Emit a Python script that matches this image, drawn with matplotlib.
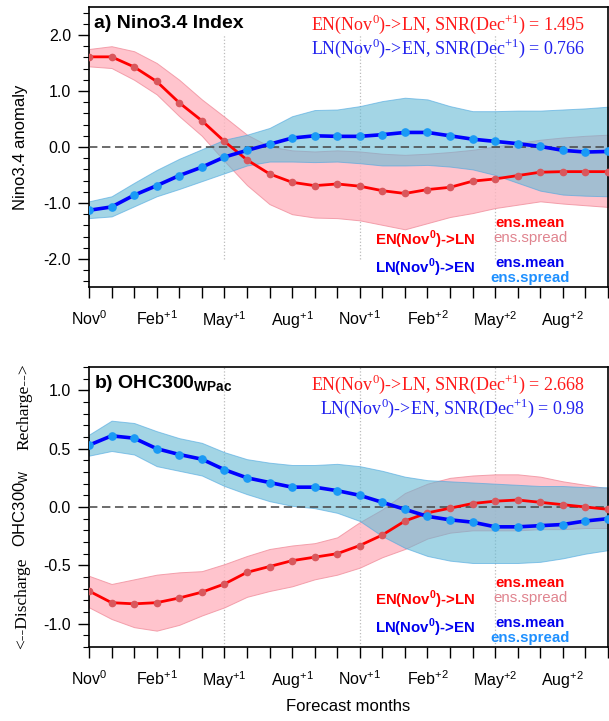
import matplotlib
matplotlib.use("Agg")
import matplotlib.pyplot as plt
from matplotlib.ticker import MultipleLocator

plt.rcParams['font.family'] = ['Liberation Sans', 'DejaVu Sans']

# forecast month index: 0 = Nov(0) ... 23 = Oct(+2)
months = list(range(24))
month_labels = [r'Nov$^{\mathregular{0}}$', r'Feb$^{\mathregular{+1}}$', r'May$^{\mathregular{+1}}$',
                r'Aug$^{\mathregular{+1}}$', r'Nov$^{\mathregular{+1}}$', r'Feb$^{\mathregular{+2}}$',
                r'May$^{\mathregular{+2}}$', r'Aug$^{\mathregular{+2}}$']

# a) Nino3.4 index
nino_en_mean = [1.61, 1.61, 1.43, 1.17, 0.79, 0.47, 0.10, -0.23, -0.48, -0.63, -0.69, -0.66,
                -0.70, -0.78, -0.83, -0.76, -0.72, -0.61, -0.57, -0.51, -0.45, -0.44, -0.44, -0.44]
nino_en_hi = [1.75, 1.80, 1.71, 1.50, 1.20, 0.85, 0.54, 0.22, 0.01, -0.06, -0.08, -0.06,
              -0.08, -0.12, -0.14, -0.12, -0.09, -0.05, 0.01, 0.07, 0.13, 0.17, 0.20, 0.22]
nino_en_lo = [1.44, 1.41, 1.20, 0.94, 0.55, 0.20, -0.25, -0.68, -1.02, -1.20, -1.26, -1.27,
              -1.31, -1.39, -1.47, -1.36, -1.25, -1.18, -1.09, -1.03, -0.97, -1.01, -1.04, -1.07]
nino_ln_mean = [-1.13, -1.07, -0.86, -0.69, -0.51, -0.36, -0.18, -0.06, 0.05, 0.16, 0.20, 0.19,
                0.19, 0.22, 0.26, 0.26, 0.20, 0.14, 0.10, 0.06, 0.01, -0.06, -0.09, -0.08]
nino_ln_hi = [-0.97, -0.88, -0.64, -0.41, -0.21, -0.04, 0.13, 0.22, 0.34, 0.55, 0.66, 0.67,
              0.73, 0.82, 0.88, 0.85, 0.73, 0.64, 0.64, 0.65, 0.65, 0.67, 0.69, 0.72]
nino_ln_lo = [-1.27, -1.24, -1.06, -0.88, -0.75, -0.61, -0.47, -0.33, -0.26, -0.26, -0.27, -0.26,
              -0.29, -0.33, -0.33, -0.32, -0.35, -0.40, -0.50, -0.64, -0.78, -0.85, -0.87, -0.88]

# b) OHC300 WPac
ohc_en_mean = [-0.72, -0.82, -0.83, -0.82, -0.78, -0.73, -0.66, -0.56, -0.51, -0.46, -0.43, -0.40,
               -0.33, -0.24, -0.12, -0.05, -0.01, 0.03, 0.05, 0.06, 0.04, 0.02, 0.00, -0.02]
ohc_en_hi = [-0.59, -0.66, -0.62, -0.58, -0.56, -0.55, -0.49, -0.42, -0.36, -0.33, -0.31, -0.26,
             -0.13, -0.02, 0.12, 0.20, 0.25, 0.27, 0.28, 0.28, 0.26, 0.22, 0.19, 0.16]
ohc_en_lo = [-0.86, -0.96, -1.03, -1.06, -1.01, -0.93, -0.86, -0.77, -0.72, -0.68, -0.62, -0.58,
             -0.52, -0.43, -0.36, -0.27, -0.22, -0.20, -0.20, -0.20, -0.19, -0.19, -0.18, -0.18]
ohc_ln_mean = [0.53, 0.61, 0.59, 0.50, 0.45, 0.41, 0.32, 0.25, 0.21, 0.17, 0.17, 0.14,
               0.10, 0.04, -0.02, -0.08, -0.11, -0.13, -0.17, -0.17, -0.16, -0.15, -0.12, -0.10]
ohc_ln_hi = [0.62, 0.74, 0.72, 0.65, 0.59, 0.55, 0.47, 0.41, 0.38, 0.36, 0.36, 0.37,
             0.35, 0.31, 0.26, 0.23, 0.22, 0.21, 0.20, 0.19, 0.18, 0.18, 0.17, 0.17]
ohc_ln_lo = [0.44, 0.48, 0.45, 0.35, 0.31, 0.27, 0.18, 0.11, 0.05, 0.01, -0.01, -0.05,
             -0.12, -0.25, -0.35, -0.42, -0.46, -0.48, -0.48, -0.48, -0.47, -0.44, -0.40, -0.37]

snr_a = ['1.495', '0.766']
snr_b = ['2.668', '0.98']

W, H = 609, 721
fig = plt.figure(figsize=(W / 100, H / 100), dpi=100)


def px(x, y):
    return x / W, 1 - y / H


def draw_panel(ax, en_mean, en_lo, en_hi, ln_mean, ln_lo, ln_hi):
    ax.fill_between(months, en_lo, en_hi, facecolor='#ffb6c1', alpha=0.8,
                    edgecolor='#f08e9c', linewidth=0.7, zorder=1)
    ax.fill_between(months, ln_lo, ln_hi, facecolor='#66bad4', alpha=0.6,
                    edgecolor='#4aa6e0', linewidth=0.7, zorder=2)
    ax.axhline(0, color='#444444', linestyle=(0, (5.5, 3)), linewidth=1.1, zorder=3)
    ax.plot(months, en_mean, color='#ff0000', linewidth=2.0, marker='o', markersize=4.5,
            markerfacecolor='#d9575c', markeredgecolor='#d9575c', zorder=4)
    ax.plot(months, ln_mean, color='#0000ff', linewidth=2.6, marker='o', markersize=5.2,
            markerfacecolor='#1a9af5', markeredgecolor='#1a9af5', zorder=5)
    ax.set_xlim(0, 23)
    ax.set_xticks(months)
    ax.set_xticklabels([month_labels[i // 3] if i % 3 == 0 else '' for i in months])
    ax.tick_params(axis='x', direction='out', length=8, width=1.0, labelsize=11.5, pad=8)
    ax.tick_params(axis='y', which='major', direction='out', length=8, width=1.0, labelsize=11.5, pad=5)
    ax.tick_params(axis='y', which='minor', direction='out', length=4, width=0.8)
    for s in ax.spines.values():
        s.set_linewidth(1.2)


# ---- panel a
ax1 = fig.add_axes([89 / W, 1 - 287 / H, 519 / W, 280 / H])
draw_panel(ax1, nino_en_mean, nino_en_lo, nino_en_hi, nino_ln_mean, nino_ln_lo, nino_ln_hi)
ax1.set_ylim(-2.5, 2.5)
ax1.set_yticks([-2, -1, 0, 1, 2])
ax1.set_yticklabels(['-2.0', '-1.0', '0.0', '1.0', '2.0'])
ax1.yaxis.set_minor_locator(MultipleLocator(0.2))
for m in [6, 12, 18]:
    ax1.plot([m, m], [-2.0, 2.0], color='#bbbbbb', linestyle=':', linewidth=0.9, zorder=0)

# ---- panel b
ax2 = fig.add_axes([89 / W, 1 - 647 / H, 519 / W, 280 / H])
draw_panel(ax2, ohc_en_mean, ohc_en_lo, ohc_en_hi, ohc_ln_mean, ohc_ln_lo, ohc_ln_hi)
ax2.set_ylim(-1.2, 1.2)
ax2.set_yticks([-1, -0.5, 0, 0.5, 1])
ax2.set_yticklabels(['-1.0', '-0.5', '0.0', '0.5', '1.0'])
ax2.yaxis.set_minor_locator(MultipleLocator(0.1))
for m in [6, 12, 18]:
    ax2.plot([m, m], [-1.2, 1.2], color='#bbbbbb', linestyle=':', linewidth=0.9, zorder=0)
ax2.set_xlabel('Forecast months', fontsize=12, labelpad=6)

# titles and SNR text
fig.text(*px(94, 23), 'a) Nino3.4 Index', fontsize=14, fontweight='bold', va='center', ha='left')
fig.text(*px(94, 383), r'b) OHC300$_{\mathregular{WPac}}$', fontsize=14, fontweight='bold',
         va='center', ha='left')

sup0 = r'$^{\mathregular{0}}$'
sup1 = r'$^{\mathregular{+1}}$'
for top, snr in [(7, snr_a), (367, snr_b)]:
    fig.text(*px(585, top + 17), 'EN(Nov' + sup0 + ')->LN, SNR(Dec' + sup1 + ') = ' + snr[0],
             family='Liberation Serif', fontsize=13, color='#ff1a1a', ha='right', va='center')
    fig.text(*px(585, top + 41), 'LN(Nov' + sup0 + ')->EN, SNR(Dec' + sup1 + ') = ' + snr[1],
             family='Liberation Serif', fontsize=13, color='#2222ee', ha='right', va='center')

# legend texts
for bottom in [287, 647]:
    fig.text(*px(475, bottom - 47), 'EN(Nov' + sup0 + ')->LN', fontsize=10.8, fontweight='bold',
             color='#ff0000', ha='right', va='center')
    fig.text(*px(475, bottom - 19), 'LN(Nov' + sup0 + ')->EN', fontsize=10.8, fontweight='bold',
             color='#0000ee', ha='right', va='center')
    fig.text(*px(530, bottom - 64), 'ens.mean', fontsize=10.8, fontweight='bold',
             color='#ff0000', ha='center', va='center')
    fig.text(*px(530, bottom - 49), 'ens.spread', fontsize=10.8,
             color='#e0848f', ha='center', va='center')
    fig.text(*px(530, bottom - 24), 'ens.mean', fontsize=10.8, fontweight='bold',
             color='#0000ee', ha='center', va='center')
    fig.text(*px(530, bottom - 9), 'ens.spread', fontsize=10.8, fontweight='bold',
             color='#1e90ff', ha='center', va='center')

# y labels
fig.text(*px(21, 147), 'Nino3.4 anomaly', fontsize=12, rotation=90, ha='center', va='center')
fig.text(*px(24, 407), 'Recharge-->', family='Liberation Serif', fontsize=12.5, rotation=90,
         ha='center', va='center')
fig.text(*px(20, 508), r'OHC300$_{\mathregular{W}}$', fontsize=12, rotation=90, ha='center', va='center')
fig.text(*px(22, 603), '<--Discharge', family='Liberation Serif', fontsize=12.5, rotation=90,
         ha='center', va='center')

fig.savefig('out.png', dpi=100)
